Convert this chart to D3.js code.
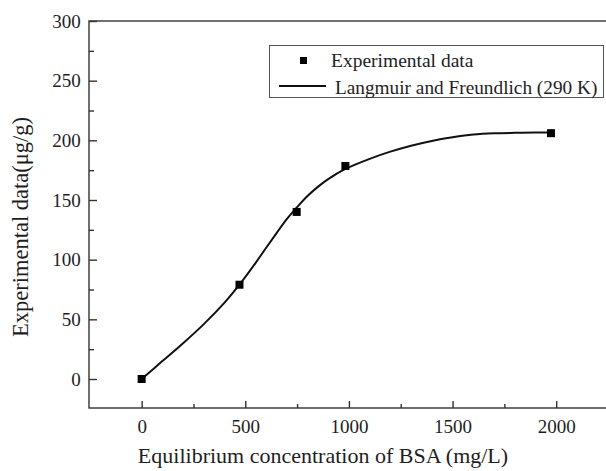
<!DOCTYPE html>
<html>
<head>
<meta charset="utf-8">
<script src="https://cdn.jsdelivr.net/npm/d3@7"></script>
<style>
  html, body { margin: 0; padding: 0; background: #fff; }
  svg { display: block; }
</style>
</head>
<body>
<svg id="chart" width="606" height="471"></svg>
<script>
// Adsorption isotherm of BSA: measured points and the fitted model curve
const expConc = [0, 472, 748, 983, 1975];          // mg/L
const expQ    = [0, 79, 140, 178.5, 206];          // μg/g

const fitConc = [0, 100, 200, 300, 400, 472, 550, 600, 650, 700, 750, 800, 850, 900, 983, 1100, 1200, 1300, 1400, 1500, 1600, 1700, 1800, 1900, 1975];
const fitQ    = [0, 15, 30, 46, 64, 79, 97.3, 109.8, 122, 134, 144, 153.3, 161, 167.5, 176, 184.5, 190.5, 195.5, 199.5, 202.5, 204.8, 205.9, 206.3, 206.5, 206.5];

const xMajorTicks = [0, 500, 1000, 1500, 2000];
const xMinorTicks = [250, 750, 1250, 1750];
const yMajorTicks = [0, 50, 100, 150, 200, 250, 300];
const yMinorTicks = [25, 75, 125, 175, 225, 275];

const legendLabels = ["Experimental data", "Langmuir and Freundlich (290 K)"];
const xTitle = "Equilibrium concentration of BSA (mg/L)";
const yTitle = "Experimental data(\u03bcg/g)";

const serif = "'Liberation Serif', 'Times New Roman', serif";
const textColor = "#1e1e1e";
const svg = d3.select("#chart");
const plot = { left: 89, top: 21, right: 608, bottom: 408 };
const axisColor = "#333";

const x = d3.scaleLinear().domain([-254, 2250]).range([plot.left, plot.right]);
const y = d3.scaleLinear().domain([-24.3, 300]).range([plot.bottom, plot.top]);

// frame
svg.append("rect")
  .attr("x", plot.left).attr("y", plot.top)
  .attr("width", plot.right - plot.left).attr("height", plot.bottom - plot.top)
  .attr("fill", "none").attr("stroke", axisColor).attr("stroke-width", 1.4);

function styleAxis(g) {
  g.attr("font-family", serif).attr("font-size", 19);
  g.select(".domain").remove();
  g.selectAll(".tick line").attr("stroke", axisColor).attr("stroke-width", 1.4);
  g.selectAll(".tick text").attr("fill", textColor).style("font-family", serif).style("font-size", "19px");
}

// x axis: ticks point into the plot
svg.append("g")
  .attr("transform", `translate(0,${plot.bottom})`)
  .call(d3.axisBottom(x).tickValues(xMajorTicks).tickSize(-7).tickPadding(11.2).tickFormat(d3.format("d")))
  .call(styleAxis);
svg.append("g")
  .attr("transform", `translate(0,${plot.bottom})`)
  .call(d3.axisBottom(x).tickValues(xMinorTicks).tickSize(-4).tickFormat(""))
  .call(styleAxis);

// y axis
svg.append("g")
  .attr("transform", `translate(${plot.left},0)`)
  .call(d3.axisLeft(y).tickValues(yMajorTicks).tickSize(-8).tickPadding(8.3).tickFormat(d3.format("d")))
  .call(styleAxis);
svg.append("g")
  .attr("transform", `translate(${plot.left},0)`)
  .call(d3.axisLeft(y).tickValues(yMinorTicks).tickSize(-5).tickFormat(""))
  .call(styleAxis);

// fitted curve
const fitData = fitConc.map((c, i) => [c, fitQ[i]]);
svg.append("path")
  .datum(fitData)
  .attr("fill", "none")
  .attr("stroke", "#111")
  .attr("stroke-width", 2)
  .attr("d", d3.line().x(d => x(d[0])).y(d => y(d[1])).curve(d3.curveCatmullRom.alpha(0.5)));

// experimental points
const ms = 8;
svg.append("g").selectAll("rect")
  .data(expConc.map((c, i) => [c, expQ[i]]))
  .join("rect")
  .attr("x", d => x(d[0]) - ms / 2)
  .attr("y", d => y(d[1]) - ms / 2)
  .attr("width", ms).attr("height", ms)
  .attr("fill", "#000");

// legend
const lg = svg.append("g");
lg.append("rect")
  .attr("x", 269.5).attr("y", 45.5).attr("width", 334).attr("height", 52)
  .attr("fill", "#fff").attr("stroke", "#555").attr("stroke-width", 1);
lg.append("rect")
  .attr("x", 300).attr("y", 57).attr("width", 7).attr("height", 7).attr("fill", "#000");
lg.append("text")
  .attr("x", 331).attr("y", 66.5)
  .style("font-family", serif).style("font-size", "19.5px").attr("fill", textColor)
  .text(legendLabels[0]);
lg.append("line")
  .attr("x1", 279).attr("x2", 326).attr("y1", 86).attr("y2", 86)
  .attr("stroke", "#111").attr("stroke-width", 2);
lg.append("text")
  .attr("x", 335).attr("y", 94.3)
  .style("font-family", serif).style("font-size", "19.3px").attr("fill", textColor)
  .text(legendLabels[1]);

// axis titles
svg.append("text")
  .attr("x", 323).attr("y", 463)
  .attr("text-anchor", "middle")
  .style("font-family", serif).style("font-size", "22px").attr("fill", textColor)
  .text(xTitle);
svg.append("text")
  .attr("transform", "translate(28,227) rotate(-90)")
  .attr("text-anchor", "middle")
  .style("font-family", serif).style("font-size", "22.5px").attr("fill", textColor)
  .text(yTitle);
</script>
</body>
</html>
